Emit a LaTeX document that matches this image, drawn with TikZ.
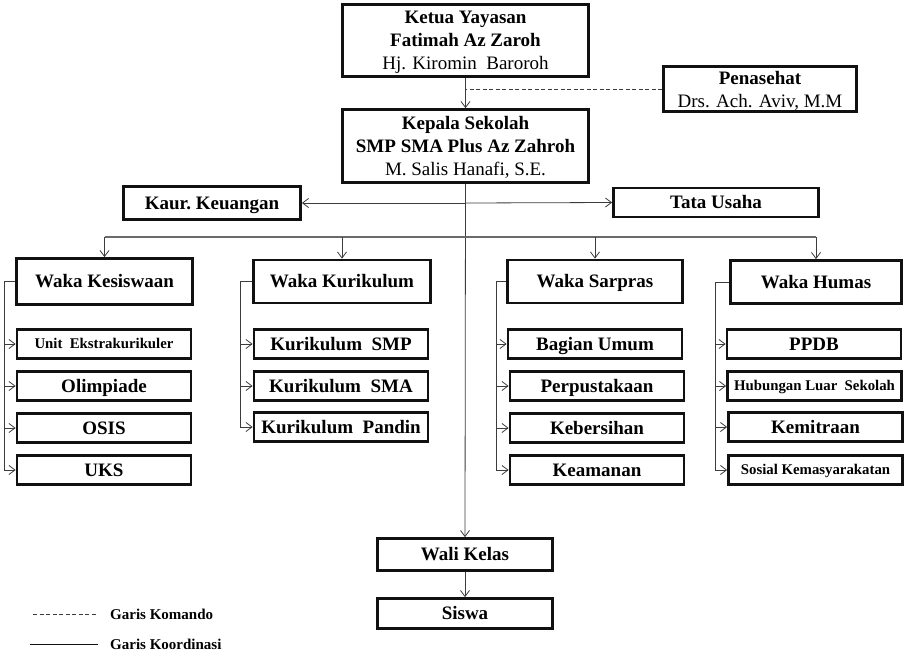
\documentclass[tikz,border=0pt]{standalone}
\usepackage{fontspec}
\setmainfont{Liberation Serif}
\usepackage{tikz}
\usetikzlibrary{arrows.meta,positioning,calc}
\definecolor{ink}{HTML}{111111}
\definecolor{linegray}{HTML}{3C3C3C}
\definecolor{busgray}{HTML}{6A6A6A}
\tikzset{
  orgbox/.style={draw=ink,fill=white,line width=2.8pt,
                 inner sep=0pt,align=center,
                 font=\fontsize{19}{23}\selectfont\bfseries},
  multiline/.style={text depth=0pt},
  oneline/.style={text height=15.5pt,text depth=3pt},
  unitbox/.style={orgbox,oneline,minimum width=174pt,minimum height=29pt},
  smallunit/.style={font=\fontsize{14.8}{17}\selectfont\bfseries,
                    text height=12.5pt,text depth=2.7pt},
  koordarr/.style={-{Straight Barb[length=6pt,width=9pt]},line width=0.8pt,color=linegray},
  koord/.style={line width=0.8pt,color=linegray},
  busline/.style={line width=1.3pt,color=busgray},
  komando/.style={line width=0.8pt,color=linegray,dash pattern=on 4pt off 2.5pt},
  legtext/.style={anchor=west,inner sep=0pt,
                  font=\fontsize{15}{18}\selectfont\bfseries}
}

\begin{document}
\begin{tikzpicture}[x=1pt,y=-1pt]
  \useasboundingbox (0,0) rectangle (907,662);
  % pimpinan
  \node[orgbox,multiline,minimum width=246pt,minimum height=72pt] (ketua) at (465.5,40.5)
    {Ketua Yayasan\\Fatimah Az Zaroh\\\mdseries Hj. Kiromin\ \ Baroroh};
  \node[orgbox,multiline,minimum width=193pt,minimum height=45pt] (nasehat) at (760,89)
    {Penasehat\\\mdseries Drs. Ach. Aviv, M.M};
  \node[orgbox,multiline,minimum width=246pt,minimum height=73pt] (kepala) at (465.5,146)
    {Kepala Sekolah\\SMP SMA Plus Az Zahroh\\\mdseries M. Salis\ Hanafi,\ S.E.};
  \node[orgbox,oneline,minimum width=177pt,minimum height=33pt] (kaur) at (212,203) {Kaur.\ Keuangan};
  \node[orgbox,oneline,minimum width=205pt,minimum height=29pt] (tu) at (716,202.5) {Tata Usaha};
  % wakil kepala
  \node[orgbox,oneline,minimum width=176pt,minimum height=46pt] (kesis) at (104.5,281.5) {Waka Kesiswaan};
  \node[orgbox,oneline,minimum width=177pt,minimum height=43pt] (kurik) at (342,281.5) {Waka Kurikulum};
  \node[orgbox,oneline,minimum width=175pt,minimum height=43pt] (sarpras) at (595,281.5) {Waka Sarpras};
  \node[orgbox,oneline,minimum width=171pt,minimum height=43pt] (humas) at (816,282) {Waka Humas};
  % unit
  \node[unitbox,smallunit] (ekskul) at (104,344) {Unit\ \ Ekstrakurikuler};
  \node[unitbox] (olim) at (104,386) {Olimpiade};
  \node[unitbox] (osis) at (104,428) {OSIS};
  \node[unitbox] (uks) at (104,470) {UKS};
  \node[unitbox] (ksmp) at (341,344) {Kurikulum\ \ SMP};
  \node[unitbox] (ksma) at (341,386) {Kurikulum\ \ SMA};
  \node[unitbox] (kpandin) at (341,427) {Kurikulum\ \ Pandin};
  \node[unitbox] (umum) at (595,344) {Bagian Umum};
  \node[unitbox] (pustaka) at (597,386) {Perpustakaan};
  \node[unitbox] (bersih) at (597,428) {Kebersihan};
  \node[unitbox] (aman) at (597,470) {Keamanan};
  \node[unitbox] (ppdb) at (814,344) {PPDB};
  \node[unitbox,smallunit] (hls) at (814.5,386) {Hubungan Luar\ \ Sekolah};
  \node[unitbox] (mitra) at (815.5,427) {Kemitraan};
  \node[unitbox,smallunit] (sosial) at (815.5,470) {Sosial Kemasyarakatan};
  % kelas
  \node[orgbox,oneline,minimum width=175pt,minimum height=32pt] (wali) at (465,554.5) {Wali Kelas};
  \node[orgbox,oneline,minimum width=175pt,minimum height=30pt] (siswa) at (465,613.5) {Siswa};
  % garis
  \draw[koordarr] (ketua) -- (kepala);
  \draw[komando] (nasehat.west) -- (nasehat.west -| ketua.south);
  \coordinate (cabang) at (kepala.south |- kaur.east);
  \draw[koordarr] (cabang) -- (kaur.east);
  \draw[koordarr] (cabang) -- (tu.west);
  \draw[koordarr] (kepala.south) -- (wali.north);
  \draw[koordarr] (wali) -- (siswa);
  \coordinate (bus) at (465,237);
  \draw[busline] (kesis.north |- bus) -- (humas.north |- bus);
  \foreach \w in {kesis,kurik,sarpras,humas}
    \draw[koordarr] (\w.north |- bus) -- (\w.north);
  % kurung tiap bidang
  \foreach \w/\xk/\last/\list in {kesis/4/uks/{ekskul,olim,osis},
                                  kurik/240/kpandin/{ksmp,ksma},
                                  sarpras/496/aman/{umum,pustaka,bersih},
                                  humas/715/sosial/{ppdb,hls,mitra}}{
    \coordinate (k-\w) at (\xk,0);
    \draw[koord] (\w.west) -- (\w.west -| k-\w);
    \draw[koordarr] (\w.west -| k-\w) |- (\last.west);
    \foreach \u in \list
      \draw[koordarr] (\u.west -| k-\w) -- (\u.west);
  }
  % keterangan
  \node[legtext] (lkom) at (110,614) {Garis Komando};
  \node[legtext] (lkoor) at (110,644) {Garis Koordinasi};
  \draw[komando] ($(lkom.west)+(-77,0)$) -- ($(lkom.west)+(-13,0)$);
  \draw[koord,color=ink] ($(lkoor.west)+(-80,0)$) -- ($(lkoor.west)+(-12,0)$);
\end{tikzpicture}
\end{document}
